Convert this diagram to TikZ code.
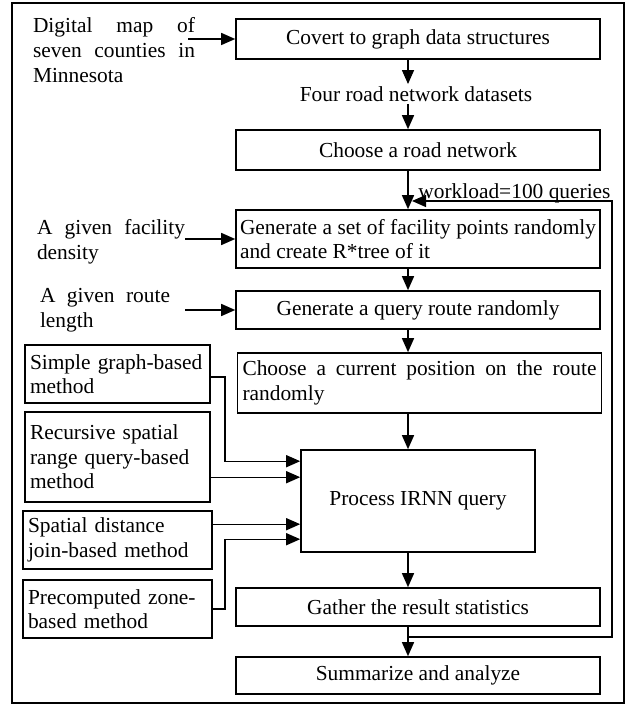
\documentclass[tikz,border=0pt]{standalone}
\usepackage{fontspec}
\setmainfont{Liberation Serif}
\usetikzlibrary{positioning, arrows.meta}
\hyphenpenalty=10000
\tolerance=9999

\begin{document}
\begin{tikzpicture}[x=0.5pt, y=-0.5pt,
  font=\fontsize{10.7}{12.3}\selectfont,
  box/.style={draw, line width=0.8pt, inner sep=2pt, minimum width=182pt},
  sidebox/.style={draw, line width=0.8pt, inner xsep=2.5pt, inner ysep=1pt, text width=87.5pt, align=left},
  txt/.style={inner sep=0pt, align=justify},
  flow/.style={line width=0.7pt, -{Triangle[length=7pt,width=6pt]}}]
  \useasboundingbox (0,0) rectangle (627,704);
  \draw[line width=1pt] (12,3) rectangle (624,703);

  % main column
  \node[box, minimum height=20pt] (cov) at (418,39) {Covert to graph data structures};
  \node[inner sep=1pt] (four) at (416,94) {Four road network datasets};
  \node[box, minimum height=20pt] (road) at (418,150) {Choose a road network};
  \node[box, minimum height=29pt, text width=178pt, align=justify] (fac) at (418,239)
    {Generate a set of facility points randomly and create R*tree of it};
  \node[box, minimum height=19pt] (qr) at (418,310) {Generate a query route randomly};
  \node[box, minimum height=30pt, inner xsep=2.25pt, text width=177pt, align=justify] (pos) at (419.5,383)
    {Choose a current position on the route randomly};
  \node[draw, line width=0.8pt, minimum width=117pt, minimum height=51pt] (proc) at (418,501) {Process IRNN query};
  \node[box, minimum height=19pt] (gath) at (418,607) {Gather the result statistics};
  \node[box, minimum height=18.5pt] (summ) at (418,675.5) {Summarize and analyze};
  \node[inner sep=0pt, anchor=base west] (wl) at (418,199) {workload=100 queries};

  \coordinate (spine) at (408,0);
  \draw[flow] (cov.south -| spine) -- (four.north -| spine);
  \draw[flow] (four.south -| spine) -- (road.north -| spine);
  \draw[flow] (road.south -| spine) -- (fac.north -| spine);
  \draw[flow] (fac.south -| spine) -- (qr.north -| spine);
  \draw[flow] (qr.south -| spine) -- (pos.north -| spine);
  \draw[flow] (pos.south -| spine) -- (proc.north -| spine);
  \draw[flow] (proc.south -| spine) -- (gath.north -| spine);
  \draw[flow] (gath.south -| spine) -- (summ.north -| spine);

  % workload loop
  \coordinate (loopB) at (612,637);
  \coordinate (loopT) at (612,201);
  \draw[flow] (spine |- loopB) -- (loopB) -- (loopT) -- ([xshift=2pt]spine |- loopT);

  % inputs on the left
  \node[txt, text width=81pt] (map) at (114,50) {Digital map of seven counties in Minnesota};
  \node[txt, text width=74pt] (dens) at (111,242) {A given facility density};
  \node[txt, text width=65pt] (len) at (105,310) {A given route length};
  \draw[flow] ([xshift=-3.5pt]map.east |- cov.west) -- (cov.west);
  \draw[flow] (dens.east |- fac.west) -- (fac.west);
  \draw[flow] (dens.east |- qr.west) -- (qr.west);

  % methods
  \node[sidebox, minimum height=29pt] (simple) at (117.5,374) {Simple graph-based\\method};
  \node[sidebox, minimum height=45pt] (rec) at (117.5,457) {Recursive spatial\\range query-based\\method};
  \node[sidebox, minimum height=29pt, text width=89.5pt] (join) at (117.5,540) {Spatial distance\\join-based method};
  \node[sidebox, minimum height=29pt, text width=89.5pt] (zone) at (117.5,609) {Precomputed zone-\\based method};

  \coordinate (jog) at (225,0);
  \path (proc.north west) ++(0,12) coordinate (in1) ++(0,16) coordinate (in2)
    ++(0,47) coordinate (in3) ++(0,15) coordinate (in4);
  \draw[flow] ([yshift=-1.5pt]simple.east) -| (jog |- in1) -- (in1);
  \draw[flow] (rec.east |- in2) -- (in2);
  \draw[flow] (join.east |- in3) -- (in3);
  \draw[flow] (zone.east) -| (jog |- in4) -- (in4);
\end{tikzpicture}
\end{document}
